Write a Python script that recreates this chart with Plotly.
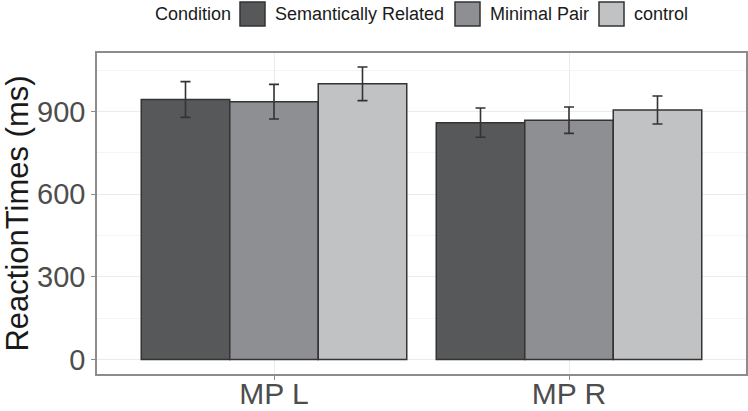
import plotly.graph_objects as go

# ---- data ----
groups = ["MP L", "MP R"]
conditions = ["Semantically Related", "Minimal Pair", "control"]
means = {
    "Semantically Related": [944, 860],
    "Minimal Pair": [936, 869],
    "control": [1001, 906],
}
errors = {
    "Semantically Related": [65, 53],
    "Minimal Pair": [63, 48],
    "control": [61, 51],
}
colors = ["#575859", "#8e8f92", "#c1c2c4"]
y_ticks = [0, 300, 600, 900]

W, H = 748, 411
L, R, T, B = 97, 2, 53, 37
PW, PH = W - L - R, H - T - B

fig = go.Figure()
for cond, col in zip(conditions, colors):
    fig.add_trace(go.Bar(
        x=groups, y=means[cond], name=cond,
        marker=dict(color=col, line=dict(color="#333333", width=1.5)),
        error_y=dict(type="data", array=errors[cond], visible=True,
                     color="#333333", thickness=1.6, width=5),
        showlegend=False,
    ))

def px(x):
    return (x - L) / PW

def py(y):
    return (H - B - y) / PH

# custom legend (ggplot-like, big keys)
fig.add_annotation(x=px(153), y=py(14), xref="paper", yref="paper",
                   text="Condition", showarrow=False, xanchor="left", yanchor="middle",
                   font=dict(size=18, color="#1a1a1a"))
key_x = [240, 455, 599]
for cond, col, kx in zip(conditions, colors, key_x):
    fig.add_shape(type="rect", xref="paper", yref="paper",
                  x0=px(kx), x1=px(kx + 25), y0=py(26), y1=py(2),
                  fillcolor=col, line=dict(color="#333333", width=1.5))
    fig.add_annotation(x=px(kx + 33), y=py(14), xref="paper", yref="paper",
                       text=cond, showarrow=False, xanchor="left", yanchor="middle",
                       font=dict(size=18, color="#1a1a1a"))

fig.update_layout(
    width=W, height=H,
    margin=dict(l=L, r=R, t=T, b=B, pad=0),
    paper_bgcolor="white", plot_bgcolor="white",
    barmode="group", bargap=0.1, bargroupgap=0,
    font=dict(family="Liberation Sans, Arial, sans-serif", color="#4d4d4d"),
    showlegend=False,
)
fig.update_xaxes(
    range=[-0.6, 1.6], showgrid=True, gridcolor="#ebebeb", gridwidth=1,
    showline=True, mirror=True, linecolor="#8c8c8c", linewidth=1.5,
    ticks="outside", ticklen=4, tickcolor="#8c8c8c",
    tickfont=dict(size=30, color="#4d4d4d"), automargin=False,
    ticklabelstandoff=-12,
)
fig.update_yaxes(
    range=[-53, 1113], tickvals=y_ticks, showgrid=True, gridcolor="#ebebeb", gridwidth=1.2,
    minor=dict(tickvals=[150, 450, 750, 1050], showgrid=True, gridcolor="#f4f4f4", gridwidth=0.8),
    zeroline=False,
    showline=True, mirror=True, linecolor="#8c8c8c", linewidth=1.5,
    ticks="outside", ticklen=4, tickcolor="#8c8c8c",
    tickfont=dict(size=29, color="#4d4d4d"), automargin=False,
    title=dict(text="ReactionTimes (ms)", font=dict(size=31, color="#1a1a1a"), standoff=4),
)

fig.write_html("out.html", config={"displayModeBar": False},
               post_script="document.body.style.margin='0';")
